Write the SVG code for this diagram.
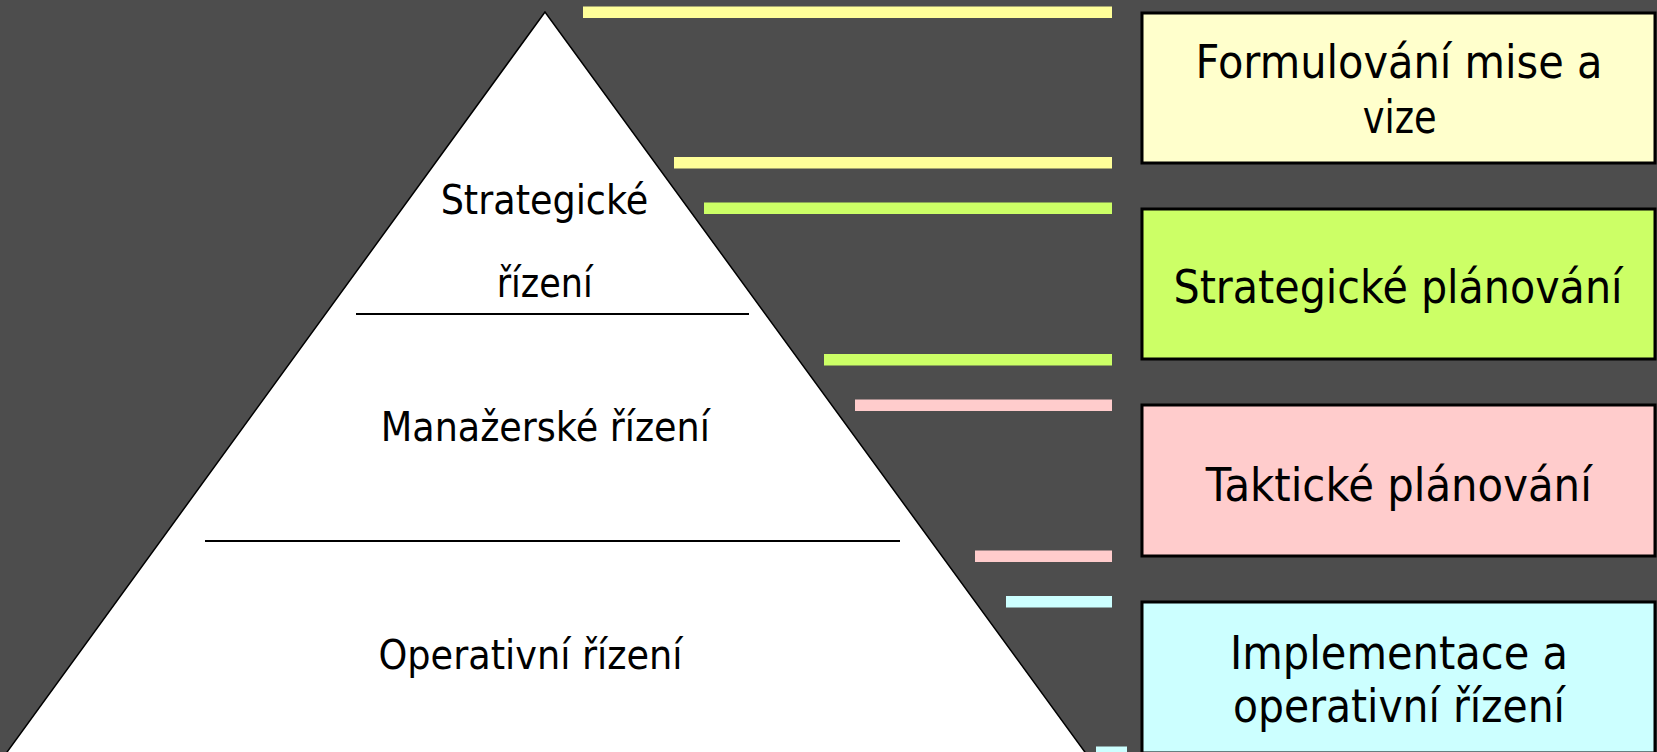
<svg xmlns="http://www.w3.org/2000/svg" width="1657" height="752" viewBox="0 0 1657 752">
<style>
.t{font-family:"DejaVu Sans","Liberation Sans",sans-serif;fill:#000;text-anchor:middle}
.tb{font-size:45.7px}
.tp{font-size:40.4px}
.box{stroke:#000;stroke-width:3}
.sep{stroke:#000;stroke-width:2}
</style>
<rect x="0" y="0" width="1657" height="752" fill="#4d4d4d"/>
<g id="pyramid">
<polygon points="545,12 -6,770 1098,770" fill="#fff" stroke="#000" stroke-width="1.5"/>
<line class="sep" x1="356" y1="314" x2="749" y2="314"/>
<line class="sep" x1="205" y1="541" x2="900" y2="541"/>
<text class="t tp" x="544.5" y="214.3" textLength="207.7" lengthAdjust="spacingAndGlyphs">Strategické</text>
<text class="t tp" x="544.7" y="296.7" textLength="96" lengthAdjust="spacingAndGlyphs">řízení</text>
<text class="t tp" x="545.3" y="441" textLength="329" lengthAdjust="spacingAndGlyphs">Manažerské řízení</text>
<text class="t tp" x="530.5" y="669" textLength="304" lengthAdjust="spacingAndGlyphs">Operativní řízení</text>
</g>
<g id="connectors">
<rect x="583" y="6.5" width="529" height="11.5" fill="#ffff99"/>
<rect x="674" y="157" width="438" height="11.5" fill="#ffff99"/>
<rect x="704" y="202.5" width="408" height="11.5" fill="#ccff66"/>
<rect x="824" y="354" width="288" height="11.5" fill="#ccff66"/>
<rect x="855" y="399.5" width="257" height="11.5" fill="#ffcccc"/>
<rect x="975" y="550.5" width="137" height="11.5" fill="#ffcccc"/>
<rect x="1006" y="596" width="106" height="11.5" fill="#ccffff"/>
<rect x="1096" y="746.5" width="31" height="11.5" fill="#ccffff"/>
</g>
<g id="box-mise">
<rect class="box" x="1142" y="13" width="513" height="150" fill="#ffffcc"/>
<text class="t tb" x="1399" y="78.3" textLength="407" lengthAdjust="spacingAndGlyphs">Formulování mise a</text>
<text class="t tb" x="1399.7" y="133.3" textLength="74" lengthAdjust="spacingAndGlyphs">vize</text>
</g>
<g id="box-strategicke">
<rect class="box" x="1142" y="209" width="513" height="150" fill="#ccff66"/>
<text class="t tb" x="1398" y="303.3" textLength="449" lengthAdjust="spacingAndGlyphs">Strategické plánování</text>
</g>
<g id="box-takticke">
<rect class="box" x="1142" y="405" width="513" height="151" fill="#ffcccc"/>
<text class="t tb" x="1398.8" y="501" textLength="386" lengthAdjust="spacingAndGlyphs">Taktické plánování</text>
</g>
<g id="box-operativni">
<rect class="box" x="1142" y="602" width="513" height="151" fill="#ccffff"/>
<text class="t tb" x="1399" y="669" textLength="338" lengthAdjust="spacingAndGlyphs">Implementace a</text>
<text class="t tb" x="1399" y="721.7" textLength="332" lengthAdjust="spacingAndGlyphs">operativní řízení</text>
</g>
</svg>
